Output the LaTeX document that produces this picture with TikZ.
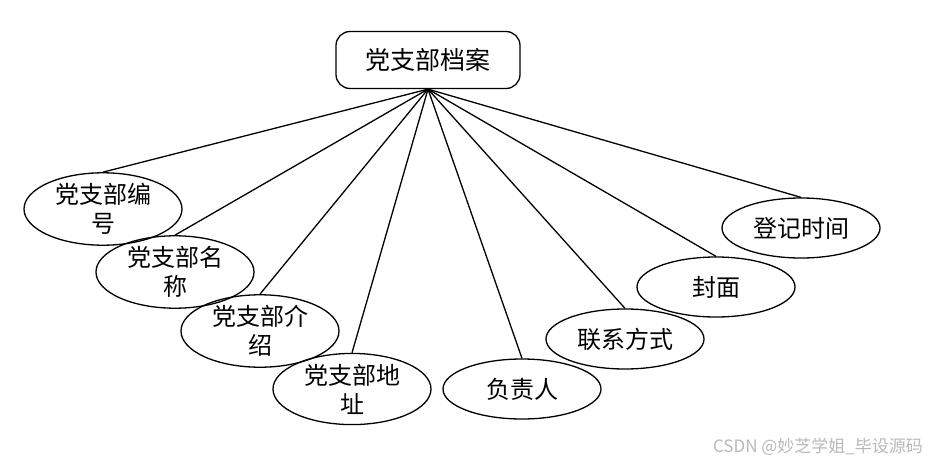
\documentclass[tikz,border=0pt]{standalone}
\usepackage{fontspec}
\usetikzlibrary{shapes.geometric}
\newfontfamily\cjk{Noto Sans CJK SC}
\begin{document}
\begin{tikzpicture}[x=1pt,y=-1pt,
  attr/.style={draw,ellipse,line width=1.3pt,minimum width=158pt,minimum height=60pt,inner sep=0pt,align=center,font=\cjk\fontsize{24}{29}\selectfont},
  ent/.style={draw,rectangle,rounded corners=14pt,line width=1.3pt,minimum width=184pt,minimum height=57pt,font=\cjk\fontsize{25}{29}\selectfont},
  link/.style={line width=1.3pt}]
\useasboundingbox (0,0) rectangle (931,463);
\node[ent] (root) at (428,60) {党支部档案};
\node[attr] (e1) at (103,209) {党支部编\\号};
\node[attr] (e2) at (175,272) {党支部名\\称};
\node[attr] (e3) at (260,331) {党支部介\\绍};
\node[attr] (e4) at (352,389) {党支部地\\址};
\node[attr] (e5) at (522,389) {负责人};
\node[attr] (e6) at (625,339) {联系方式};
\node[attr] (e7) at (716,287) {封面};
\node[attr] (e8) at (801,228) {登记时间};
\foreach \i in {1,...,8} \draw[link] (root.south) -- (e\i.north);
\node[font=\cjk\fontsize{17}{19}\selectfont,text=black!28] (wm) at (818,447) {CSDN @妙芝学姐\_毕设源码};
\end{tikzpicture}
\end{document}
